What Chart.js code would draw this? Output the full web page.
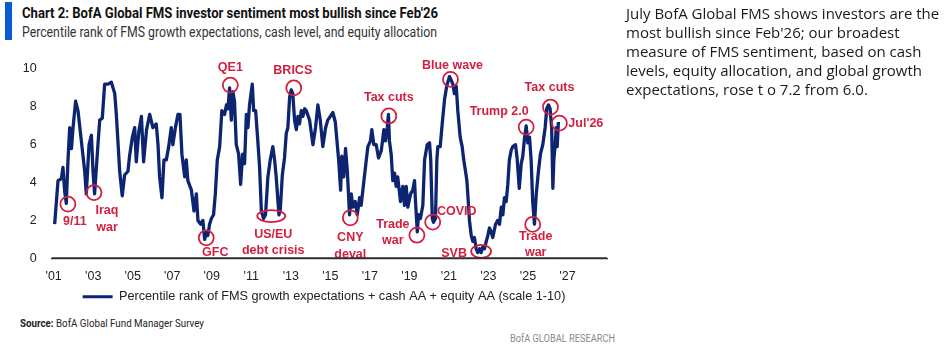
<!DOCTYPE html>
<html>
<head>
<meta charset="utf-8">
<script src="https://cdn.jsdelivr.net/npm/chart.js@4.4.1/dist/chart.umd.min.js"></script>
<style>
html, body { margin: 0; padding: 0; background: #fff; }
body { width: 945px; height: 351px; position: relative; overflow: hidden; }
#bar { position: absolute; left: 5px; top: 2px; width: 7px; height: 38px; background: #0a5ad4; }
.fit { position: absolute; white-space: nowrap; transform-origin: left center; }
#title { left: 22px; top: 4px; font: bold 15px Roboto, sans-serif; color: #111; }
#subtitle { left: 22px; top: 24px; font: 14px Roboto, sans-serif; color: #333; }
#chart { position: absolute; left: 0; top: 0; }
#source { left: 20px; top: 317px; font: 10.5px Roboto, sans-serif; color: #222; }
#footer { left: 510px; top: 332px; font: 10.5px Roboto, sans-serif; color: #8a8a8a; }
#note { position: absolute; left: 626px; top: 4px; font: 15px "Open Sans", sans-serif; line-height: 19px; color: #1a1a1a; }
</style>
</head>
<body>
<div id="bar"></div>
<div id="title" class="fit">Chart 2: BofA Global FMS investor sentiment most bullish since Feb'26</div>
<div id="subtitle" class="fit">Percentile rank of FMS growth expectations, cash level, and equity allocation</div>
<canvas id="chart" width="648" height="315"></canvas>
<div id="source" class="fit"><b>Source:</b> BofA Global Fund Manager Survey</div>
<div id="footer" class="fit">BofA GLOBAL RESEARCH</div>
<div id="note">July BofA Global FMS shows investors are the<br>most bullish since Feb'26; our broadest<br>measure of FMS sentiment, based on cash<br>levels, equity allocation, and global growth<br>expectations, rose t o 7.2 from 6.0.</div>
<script>
// FMS sentiment (decimal year, scale 1-10)
const dates = [
  2001.05, 2001.22, 2001.39, 2001.47, 2001.56, 2001.64, 2001.72, 2001.81, 2001.90, 2001.98,
  2002.11, 2002.23, 2002.40, 2002.57, 2002.65, 2002.79, 2002.91, 2002.99, 2003.07, 2003.24,
  2003.33, 2003.46, 2003.58, 2003.75, 2003.92, 2004.09, 2004.17, 2004.25, 2004.34, 2004.47,
  2004.59, 2004.76, 2004.84, 2004.98, 2005.10, 2005.18, 2005.31, 2005.44, 2005.55, 2005.70,
  2005.86, 2006.02, 2006.19, 2006.28, 2006.36, 2006.48, 2006.58, 2006.70, 2006.82, 2006.95,
  2007.03, 2007.16, 2007.29, 2007.39, 2007.49, 2007.63, 2007.71, 2007.79, 2007.97, 2008.10,
  2008.22, 2008.30, 2008.44, 2008.55, 2008.64, 2008.72, 2008.80, 2008.89, 2008.98, 2009.09,
  2009.18, 2009.28, 2009.40, 2009.51, 2009.65, 2009.74, 2009.82, 2009.90, 2009.99, 2010.07,
  2010.15, 2010.24, 2010.36, 2010.46, 2010.56, 2010.66, 2010.75, 2010.83, 2010.91, 2011.05,
  2011.12, 2011.22, 2011.33, 2011.42, 2011.51, 2011.62, 2011.72, 2011.84, 2011.96, 2012.09,
  2012.18, 2012.26, 2012.40, 2012.47, 2012.57, 2012.68, 2012.77, 2012.85, 2012.94, 2013.02,
  2013.10, 2013.19, 2013.28, 2013.36, 2013.44, 2013.53, 2013.61, 2013.70, 2013.78, 2013.95,
  2014.12, 2014.25, 2014.37, 2014.49, 2014.62, 2014.76, 2014.87, 2015.00, 2015.13, 2015.25,
  2015.42, 2015.52, 2015.58, 2015.68, 2015.77, 2015.86, 2015.97, 2016.06, 2016.14, 2016.26,
  2016.36, 2016.48, 2016.56, 2016.70, 2016.82, 2016.90, 2017.03, 2017.10, 2017.20, 2017.32,
  2017.44, 2017.58, 2017.71, 2017.79, 2017.88, 2017.94, 2017.99, 2018.08, 2018.16, 2018.25,
  2018.33, 2018.41, 2018.55, 2018.67, 2018.75, 2018.84, 2018.92, 2019.06, 2019.17, 2019.26,
  2019.31, 2019.40, 2019.46, 2019.56, 2019.68, 2019.77, 2019.90, 2020.02, 2020.08, 2020.16,
  2020.22, 2020.32, 2020.39, 2020.44, 2020.56, 2020.66, 2020.78, 2020.89, 2021.03, 2021.12,
  2021.20, 2021.28, 2021.37, 2021.45, 2021.57, 2021.67, 2021.75, 2021.84, 2021.91, 2021.98,
  2022.04, 2022.13, 2022.21, 2022.29, 2022.38, 2022.46, 2022.55, 2022.63, 2022.71, 2022.80,
  2022.89, 2022.97, 2023.05, 2023.14, 2023.22, 2023.36, 2023.47, 2023.56, 2023.65, 2023.73,
  2023.81, 2023.90, 2023.98, 2024.06, 2024.15, 2024.23, 2024.37, 2024.45, 2024.56, 2024.66,
  2024.74, 2024.82, 2024.91, 2024.99, 2025.08, 2025.16, 2025.24, 2025.33, 2025.42, 2025.53,
  2025.63, 2025.75, 2025.87, 2025.95, 2026.04, 2026.12, 2026.20, 2026.26, 2026.31, 2026.38,
  2026.43, 2026.48, 2026.54
];
const values = [
  1.8, 4.1, 4.2, 4.8, 3.5, 2.9, 5.1, 6.9, 5.8, 6.9,
  8.3, 7.8, 6.2, 4.6, 3.4, 6.0, 6.5, 4.6, 3.4, 6.0,
  7.3, 7.4, 9.2, 9.2, 9.3, 8.7, 7.6, 6.2, 4.6, 3.3,
  4.4, 4.6, 5.4, 6.4, 6.9, 5.1, 6.7, 7.5, 5.1, 6.8,
  7.6, 6.9, 7.1, 6.0, 4.3, 3.2, 5.2, 5.2, 5.9, 6.9,
  6.0, 6.9, 7.6, 7.6, 5.5, 4.3, 5.2, 4.1, 3.6, 2.5,
  3.4, 2.0, 1.8, 2.0, 1.0, 1.4, 1.2, 1.8, 2.1, 2.3,
  3.4, 5.2, 5.9, 7.8, 7.6, 8.1, 7.9, 9.0, 7.3, 8.8,
  8.3, 6.0, 5.5, 3.9, 5.5, 5.0, 7.6, 6.9, 8.1, 9.2,
  7.8, 7.8, 6.2, 4.8, 2.5, 2.1, 2.3, 4.3, 5.2, 5.9,
  5.2, 4.3, 2.3, 2.6, 4.4, 5.3, 6.6, 6.9, 8.5, 8.9,
  8.7, 7.3, 6.8, 7.5, 7.1, 7.8, 7.5, 7.9, 7.8, 7.3,
  6.0, 6.9, 8.1, 7.3, 5.9, 6.9, 7.3, 7.5, 7.7, 7.2,
  5.2, 3.6, 5.4, 4.3, 5.8, 4.6, 2.3, 3.4, 2.7, 3.0,
  2.3, 3.2, 2.8, 4.1, 5.2, 5.9, 6.2, 6.8, 6.0, 6.0,
  5.3, 5.7, 6.8, 6.2, 6.9, 7.6, 6.2, 5.5, 4.1, 4.5,
  3.8, 4.3, 3.0, 3.8, 2.8, 3.8, 2.7, 3.4, 3.6, 4.1,
  3.0, 1.4, 2.3, 2.1, 2.8, 5.2, 6.0, 6.1, 5.2, 2.1,
  1.9, 2.1, 5.2, 5.9, 5.9, 7.1, 8.4, 9.1, 9.6, 9.4,
  9.2, 8.7, 9.1, 7.8, 6.4, 5.9, 5.2, 4.6, 4.1, 3.0,
  2.0, 1.2, 0.9, 1.1, 0.5, 0.3, 0.5, 0.3, 0.6, 0.5,
  0.9, 1.2, 1.6, 1.4, 1.1, 1.8, 2.0, 1.8, 2.7, 2.3,
  3.2, 3.0, 3.9, 5.2, 5.7, 5.9, 6.0, 5.3, 3.7, 5.0,
  5.4, 6.3, 7.0, 6.1, 6.4, 5.2, 3.0, 1.8, 3.4, 4.6,
  5.5, 6.0, 6.9, 7.9, 8.1, 7.9, 6.9, 3.7, 5.2, 6.0,
  6.9, 5.9, 7.2
];

const tickYears = [2001, 2003, 2005, 2007, 2009, 2011, 2013, 2015, 2017, 2019, 2021, 2023, 2025, 2027];
const legendLabel = "Percentile rank of FMS growth expectations + cash AA + equity AA (scale 1-10)";

// circled events
const eventLabels = ["9/11", "Iraq\nwar", "GFC", "QE1", "US/EU\ndebt crisis", "BRICS", "CNY\ndeval", "Tax cuts",
                     "Trade\nwar", "COVID", "Blue wave", "SVB", "Trump 2.0", "Trade\nwar", "Tax cuts", "Jul'26"];
const eventDates = [2001.72, 2003.04, 2008.72, 2009.94, 2012.01, 2013.15, 2016.01, 2017.96,
                    2019.38, 2020.18, 2021.08, 2022.63, 2024.91, 2025.24, 2026.14, 2026.59];
const eventValues = [2.86, 3.47, 1.08, 9.15, 2.23, 9.0, 2.14, 7.52,
                     1.22, 1.91, 9.45, 0.37, 6.93, 1.79, 7.99, 7.14];
// label offset dx, dy (px), circle radii, text align
const eventLayout = [
  [7, 17, 7.5, 7.5, "center"], [13, 18, 7.5, 7.5, "center"], [9, 15, 7.5, 7.5, "center"],
  [0, -18, 7.5, 7.5, "center"], [2, 18, 14, 6, "center"], [-1, -17, 7.5, 7.5, "center"],
  [0, 20, 7.5, 7.5, "center"], [0, -18, 7.5, 7.5, "center"], [-24, -11, 7.5, 7.5, "center"],
  [24, -11, 7.5, 7.5, "center"], [2, -14, 7.5, 7.5, "center"], [-27, 2, 10, 6.5, "center"],
  [-27, -16, 7.5, 7.5, "center"], [3, 12, 7.5, 7.5, "center"], [-1, -20, 7.5, 7.5, "center"],
  [9, 0, 7.5, 7.5, "left"]
];

const navy = "#0d2470";
const red = "#d31f3f";

function fitWidth(id, w) {
  const el = document.getElementById(id);
  const s = w / el.getBoundingClientRect().width;
  el.style.transform = `scaleX(${s})`;
}
fitWidth("title", 416);
fitWidth("subtitle", 415);
fitWidth("source", 184);
fitWidth("footer", 105);

// x axis baseline at the bottom of the plot area, drawn last
const baselinePlugin = {
  id: "baseline",
  afterDraw(chart) {
    const { ctx, chartArea } = chart;
    const yb = Math.round(chartArea.bottom);
    ctx.save();
    ctx.strokeStyle = "#2b2b2b";
    ctx.lineWidth = 1.6;
    ctx.beginPath();
    ctx.moveTo(chartArea.left, yb);
    ctx.lineTo(chartArea.right, yb);
    ctx.stroke();
    ctx.restore();
  }
};

const eventsPlugin = {
  id: "events",
  afterDatasetsDraw(chart) {
    const { ctx, scales: { x, y } } = chart;
    ctx.save();
    ctx.strokeStyle = red;
    ctx.fillStyle = red;
    ctx.lineWidth = 1.8;
    ctx.font = 'bold 12.5px "Liberation Sans", Arial, sans-serif';
    ctx.textBaseline = "middle";
    eventDates.forEach((d, i) => {
      const cx = x.getPixelForValue(d);
      const cy = y.getPixelForValue(eventValues[i]);
      const [dx, dy, rx, ry, align] = eventLayout[i];
      ctx.beginPath();
      ctx.ellipse(cx, cy, rx, ry, 0, 0, Math.PI * 2);
      ctx.stroke();
      ctx.textAlign = align;
      eventLabels[i].split("\n").forEach((t, k) => {
        ctx.fillText(t, cx + dx, cy + dy + k * 16.5);
      });
    });
    ctx.restore();
  }
};

const tickFont = { family: '"Liberation Sans", Arial, sans-serif', size: 12.5 };

new Chart(document.getElementById("chart"), {
  type: "line",
  data: {
    datasets: [{
      label: legendLabel,
      data: dates.map((d, i) => ({ x: d, y: values[i] })),
      borderColor: navy,
      backgroundColor: navy,
      borderWidth: 3.3,
      borderJoinStyle: "round",
      pointRadius: 0,
      tension: 0
    }]
  },
  options: {
    responsive: false,
    animation: false,
    layout: { padding: { top: 69, right: 0, left: 0, bottom: 2 } },
    plugins: {
      tooltip: { enabled: false },
      legend: {
        position: "bottom",
        labels: {
          boxWidth: 30,
          boxHeight: 3,
          color: "#222",
          padding: 8,
          font: { family: '"Liberation Sans", Arial, sans-serif', size: 12.7 },
          generateLabels: (chart) => {
            const items = Chart.defaults.plugins.legend.labels.generateLabels(chart);
            items.forEach(it => { it.lineWidth = 0; });
            return items;
          }
        }
      }
    },
    scales: {
      x: {
        type: "linear",
        min: 2000.9,
        max: 2029,
        grid: { display: false },
        border: { display: true, color: "#333", width: 1.2 },
        afterBuildTicks: (s) => { s.ticks = tickYears.map(v => ({ value: v })); },
        afterFit: (s) => { s.height = 24; },
        ticks: {
          autoSkip: false,
          maxRotation: 0,
          padding: 3,
          color: "#222",
          font: tickFont,
          callback: (v) => "'" + String(v).slice(2)
        }
      },
      y: {
        min: 0,
        max: 10,
        grid: { display: false, tickLength: 0 },
        border: { display: false },
        afterFit: (s) => { s.width = 51.7; },
        ticks: { stepSize: 2, padding: 15, color: "#222", font: tickFont }
      },
      // empty right-hand margin so the legend centres under the whole panel
      yRight: {
        position: "right",
        min: 0,
        max: 10,
        grid: { display: false },
        border: { display: false },
        ticks: { display: false },
        afterFit: (s) => { s.width = 41; }
      }
    }
  },
  plugins: [baselinePlugin, eventsPlugin]
});
</script>
</body>
</html>
